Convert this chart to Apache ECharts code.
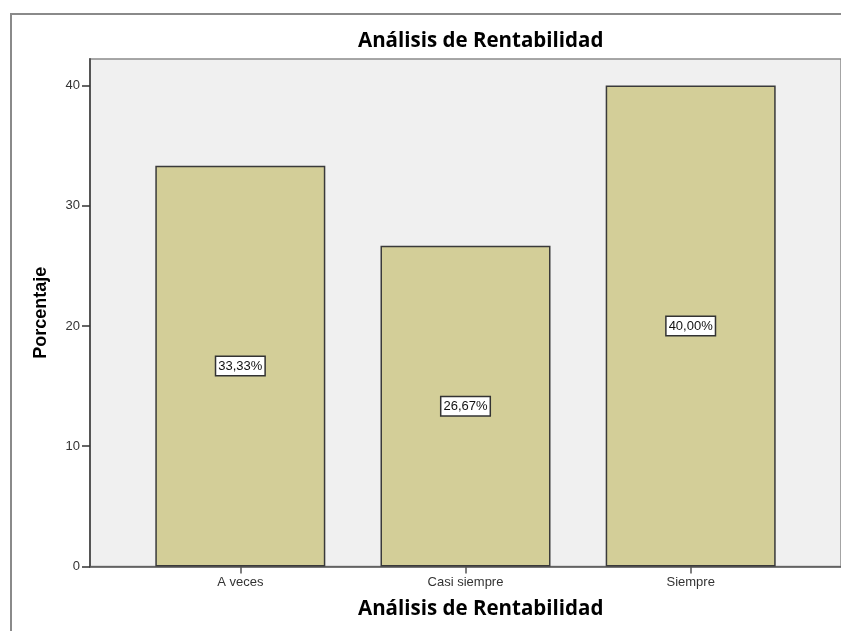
<!DOCTYPE html>
<html>
<head>
<meta charset="utf-8">
<script src="https://cdn.jsdelivr.net/npm/echarts@6/dist/echarts.min.js"></script>
<style>
  html, body { margin: 0; padding: 0; background: #fff; }
  #chart { width: 841px; height: 631px; }
</style>
</head>
<body>
<div id="chart"></div>
<script>
// Response categories and their percentages
const categories = ['A veces', 'Casi siempre', 'Siempre'];
const percentages = [33.33, 26.67, 40.00];
const yTicks = [0, 10, 20, 30, 40];
const chartTitle = 'Análisis de Rentabilidad';
const yTitle = 'Porcentaje';

const chart = echarts.init(document.getElementById('chart'), null, { renderer: 'canvas' });

// Bars sit at integer positions 0..n-1 on a numeric x axis so the plot can keep SPSS-style side padding
const barData = percentages.map((v, i) => [i, v]);
const catPositions = categories.map((_, i) => i);

const titleStyle = { fontFamily: 'Open Sans', fontWeight: 'bold', fontSize: 20.5, color: '#000' };

const option = {
  backgroundColor: '#ffffff',
  animation: false,
  title: [
    { text: chartTitle, left: 353, top: 26, textStyle: titleStyle },
    { text: chartTitle, left: 353, top: 594, textStyle: titleStyle }
  ],
  graphic: [
    {
      type: 'rect',
      shape: { x: 11, y: 14, width: 860, height: 660 },
      style: { fill: 'none', stroke: '#8a8a8a', lineWidth: 2 },
      silent: true
    }
  ],
  grid: {
    left: 90, top: 59, width: 756, bottom: 64.5,
    show: true,
    backgroundColor: '#f0f0f0',
    borderColor: '#8a8a8a',
    borderWidth: 1.5
  },
  xAxis: {
    type: 'value',
    min: -0.6675,
    max: 2.6675,
    splitLine: { show: false },
    axisLine: { show: true, onZero: false, lineStyle: { color: '#555', width: 1.5 } },
    axisTick: {
      show: true, length: 7, customValues: catPositions,
      lineStyle: { color: '#555', width: 1.5 }
    },
    axisLabel: {
      customValues: catPositions,
      formatter: v => categories[Math.round(v)] || '',
      color: '#333', fontFamily: 'Liberation Sans', fontSize: 13, margin: 9
    }
  },
  yAxis: {
    type: 'value',
    min: 0,
    max: 42.2,
    name: yTitle,
    nameLocation: 'middle',
    nameGap: 40,
    nameTextStyle: { fontFamily: 'Liberation Sans', fontWeight: 'bold', fontSize: 18, color: '#000' },
    splitLine: { show: false },
    axisLine: { show: true, onZero: false, lineStyle: { color: '#555', width: 2 } },
    axisTick: {
      show: true, length: 8, customValues: yTicks,
      lineStyle: { color: '#333', width: 1.5 }
    },
    axisLabel: {
      customValues: yTicks,
      color: '#333', fontFamily: 'Liberation Sans', fontSize: 13, margin: 10
    }
  },
  series: [
    {
      type: 'bar',
      data: barData,
      barWidth: 170,
      itemStyle: { color: '#d3ce98', borderColor: '#3a3a3a', borderWidth: 1.5 },
      label: {
        show: true,
        position: 'inside',
        formatter: p => p.value[1].toFixed(2).replace('.', ',') + '%',
        fontFamily: 'Liberation Sans', fontSize: 13, color: '#111',
        backgroundColor: '#ffffff',
        borderColor: '#333', borderWidth: 1.5,
        padding: [3, 2, 2, 2]
      }
    }
  ]
};

chart.setOption(option);
</script>
</body>
</html>
